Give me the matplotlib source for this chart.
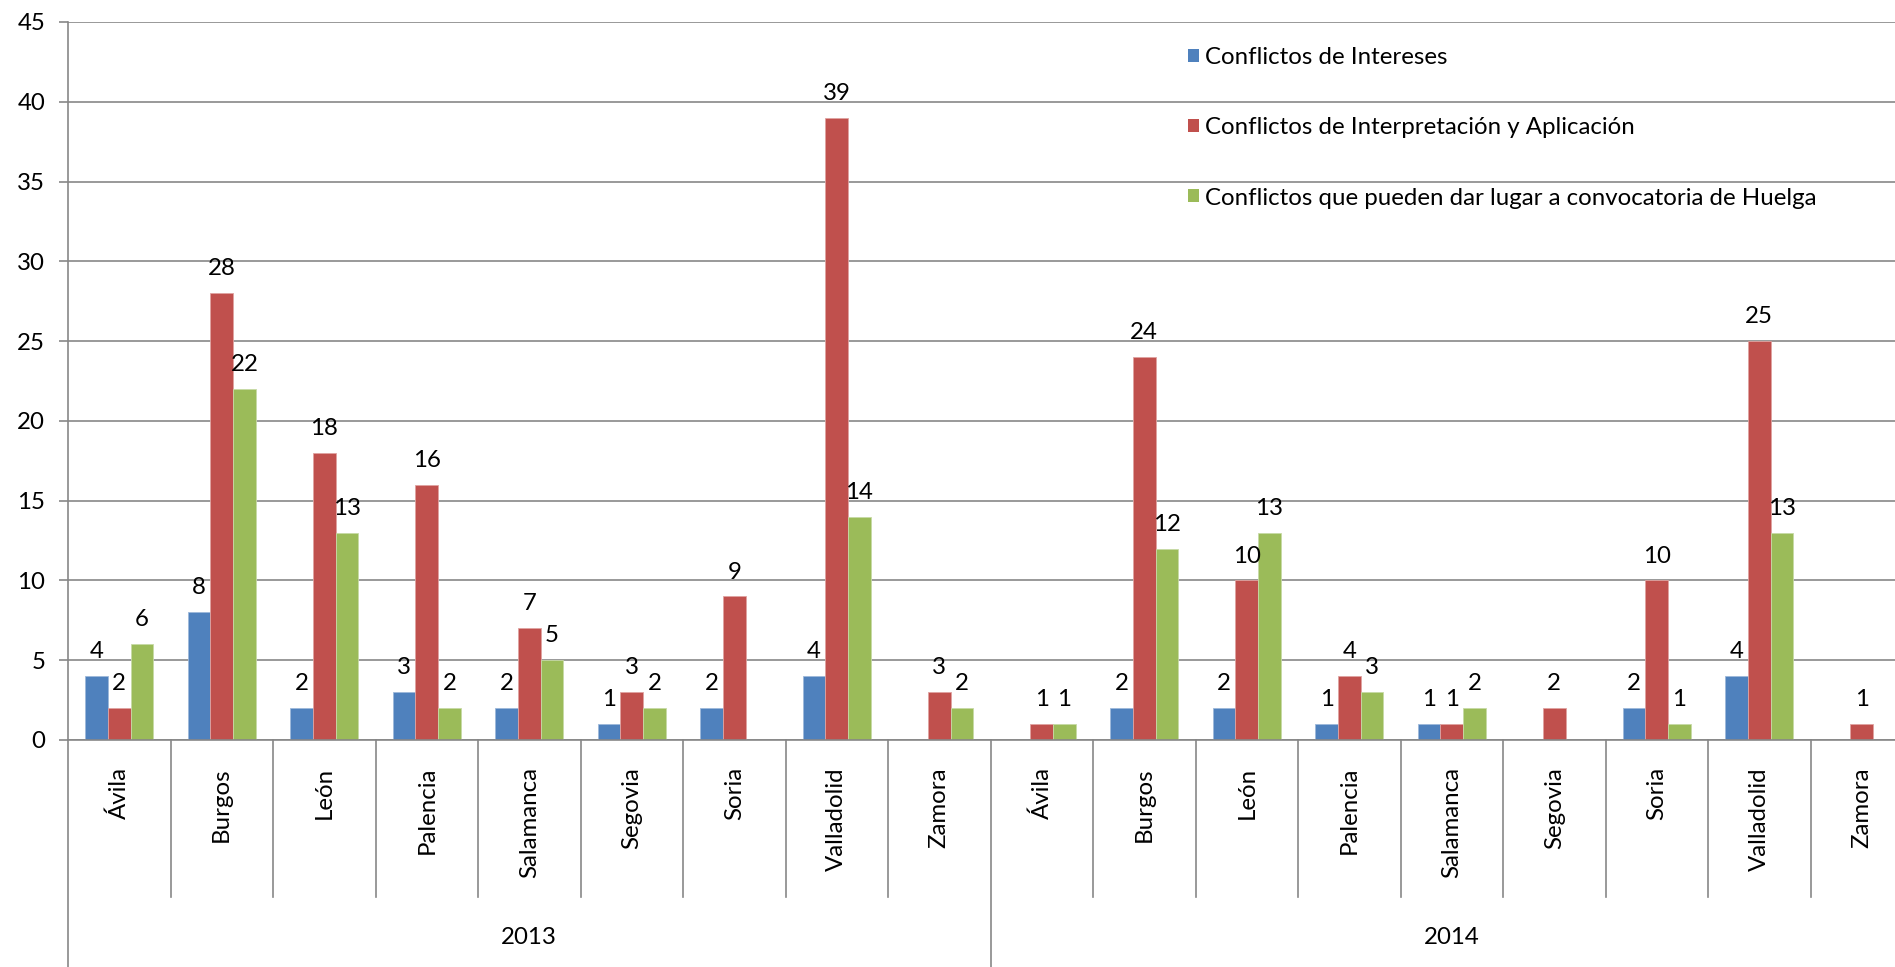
import matplotlib as mpl
from matplotlib import pyplot as plt
from matplotlib.patches import Patch
import numpy as np

mpl.rcParams["font.family"] = ["Lato", "DejaVu Sans"]

years = ["2013", "2014"]
provinces = ["Ávila", "Burgos", "León", "Palencia", "Salamanca",
             "Segovia", "Soria", "Valladolid", "Zamora"]

series_names = ["Conflictos de Intereses",
                "Conflictos de Interpretación y Aplicación",
                "Conflictos que pueden dar lugar a convocatoria de Huelga"]

# 2013 then 2014, one value per province (0 = no bar, no label)
intereses = [4, 8, 2, 3, 2, 1, 2, 4, 0,
             0, 2, 2, 1, 1, 0, 2, 4, 0]
interpretacion = [2, 28, 18, 16, 7, 3, 9, 39, 3,
                  1, 24, 10, 4, 1, 2, 10, 25, 1]
huelga = [6, 22, 13, 2, 5, 2, 0, 14, 2,
          1, 12, 13, 3, 2, 0, 1, 13, 0]

colors = ["#4F81BD", "#C0504D", "#9BBB59"]
edges = ["#9DB8DA", "#E0A3A1", "#C7DAA6"]

fs = 17.3

W, H = 1895, 967
fig = plt.figure(figsize=(W / 100, H / 100), dpi=100)

# plot area in pixels (right side runs past the picture edge, as in the source)
x0, y_zero, y_top = 68, 740, 22
cat_w = 102.5
ncat = len(years) * len(provinces)
ax = fig.add_axes([x0 / W, (H - y_zero) / H, ncat * cat_w / W, (y_zero - y_top) / H])
ax_h = y_zero - y_top

ax.set_xlim(0, ncat)
ax.set_ylim(0, 45)
ax.set_yticks(np.arange(0, 46, 5))
ax.yaxis.grid(True, color="#878787", linewidth=1.2)
ax.set_axisbelow(True)
for s in ["top", "right", "bottom", "left"]:
    ax.spines[s].set_visible(False)
ax.tick_params(axis="y", length=6.5, width=1.2, color="#878787", pad=10, labelsize=fs)
ax.set_xticks([])

bw = 0.221
centers = np.arange(ncat) + 0.5
for k, vals in enumerate([intereses, interpretacion, huelga]):
    xs = centers + (k - 1) * bw
    for x, v in zip(xs, vals):
        if v == 0:
            continue
        ax.bar(x, v, width=bw, color=colors[k], edgecolor=edges[k], linewidth=0.6, zorder=2)
        ax.annotate(str(v), (x, v), xytext=(0, 10), textcoords="offset points",
                    ha="center", va="bottom", fontsize=fs, zorder=3)

# axis lines and category separators below the plot
tr = ax.get_xaxis_transform()
line_kw = dict(color="#878787", linewidth=1.2, clip_on=False, transform=tr)
ax.plot([0, 0], [-0.4, 1], **line_kw)
ax.plot([0, ncat], [0, 0], **line_kw)
cat_depth = -(897 - y_zero) / ax_h
for i in range(1, ncat):
    if i % len(provinces) == 0:
        ax.plot([i, i], [-0.4, 0], **line_kw)
    else:
        ax.plot([i, i], [cat_depth, 0], **line_kw)

for i, c in enumerate(centers):
    ax.text(c, -(767 - y_zero) / ax_h, provinces[i % len(provinces)], transform=tr,
            rotation=90, ha="center", va="top", fontsize=fs)

for j, yr in enumerate(years):
    mid = len(provinces) * (j + 0.5)
    ax.text(mid, -(938 - y_zero) / ax_h, yr, transform=tr,
            ha="center", va="center", fontsize=fs)

handles = [Patch(facecolor=c, edgecolor="none") for c in colors]
fig.legend(handles, series_names, loc="upper left",
           bbox_to_anchor=(1188 / W, 1 - 47 / H), frameon=False,
           fontsize=fs, handlelength=0.45, handleheight=0.45,
           handletextpad=0.25, labelspacing=2.05, borderpad=0, borderaxespad=0)

plt.savefig("out.png", dpi=100)
